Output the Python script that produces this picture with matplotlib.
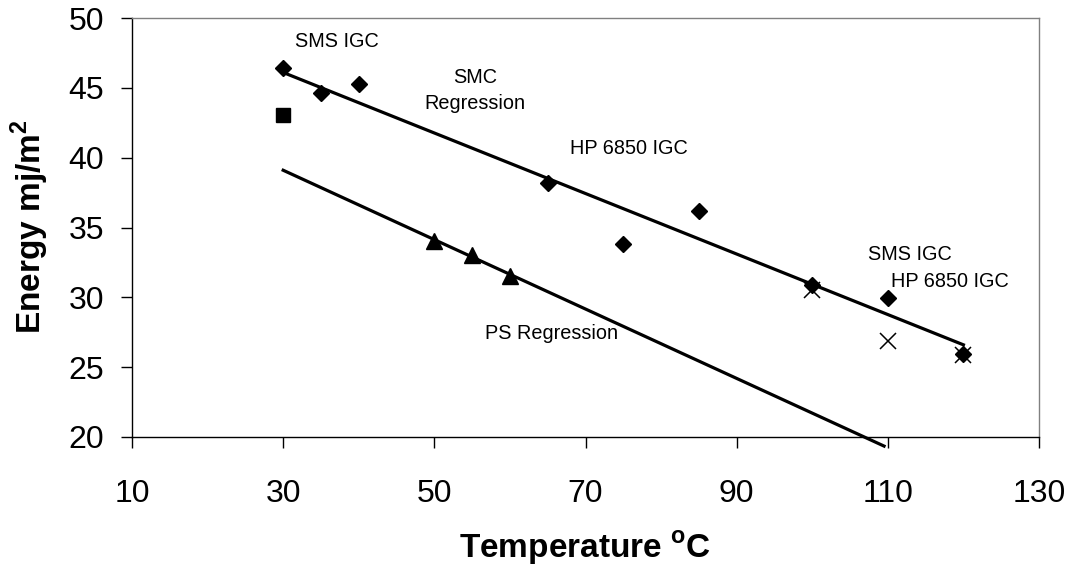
import matplotlib
matplotlib.use("Agg")
import matplotlib.pyplot as plt

plt.rcParams['font.family'] = ['Liberation Sans', 'DejaVu Sans']
plt.rcParams['mathtext.fontset'] = 'custom'
plt.rcParams['mathtext.rm'] = 'Liberation Sans'
plt.rcParams['mathtext.bf'] = 'Liberation Sans:bold'

# SMS IGC (diamonds)
sms_x = [30, 35, 40, 65, 75, 85, 100, 110, 120]
sms_y = [46.45, 44.6, 45.3, 38.2, 33.85, 36.15, 30.85, 29.95, 25.95]
# HP 6850 IGC (crosses)
hp_x = [100, 110, 120]
hp_y = [30.5, 26.85, 25.85]
# single square point
sq_x = [30]
sq_y = [43.05]
# PS points (triangles)
ps_x = [50, 55, 60]
ps_y = [34.0, 33.0, 31.5]
# regression lines (end points)
smc_reg_x = [30, 120]
smc_reg_y = [46.1, 26.6]
ps_reg_x = [30, 109.5]
ps_reg_y = [39.1, 19.35]

x_ticks = [10, 30, 50, 70, 90, 110, 130]
y_ticks = [20, 25, 30, 35, 40, 45, 50]

fig = plt.figure(figsize=(10.73, 5.77), dpi=100)
ax = fig.add_axes([132/1073, 1-437/577, (1039-132)/1073, (437-18)/577])

ax.plot(smc_reg_x, smc_reg_y, color='black', lw=2.3, zorder=2)
ax.plot(ps_reg_x, ps_reg_y, color='black', lw=2.3, zorder=2, clip_on=False)
ax.plot(sms_x, sms_y, linestyle='none', marker='D', ms=8.3, color='black', zorder=4)
ax.plot(hp_x, hp_y, linestyle='none', marker='x', ms=12, mew=1.1, color='black', zorder=3)
ax.plot(sq_x, sq_y, linestyle='none', marker='s', ms=10.5, color='black', zorder=4)
ax.plot(ps_x, ps_y, linestyle='none', marker='^', ms=11.5, color='black', zorder=4)

ax.set_xlim(10, 130)
ax.set_ylim(20, 50)
ax.set_xticks(x_ticks)
ax.set_yticks(y_ticks)
ax.tick_params(axis='both', direction='out', length=8, width=1, labelsize=23, color='black')
ax.tick_params(axis='x', pad=22)
ax.tick_params(axis='y', pad=12)

for s in ['left', 'bottom']:
    ax.spines[s].set_color('black')
    ax.spines[s].set_linewidth(1)
for s in ['top', 'right']:
    ax.spines[s].set_color('#808080')
    ax.spines[s].set_linewidth(1)

fs = 14.3
ax.text(31.6, 48.35, 'SMS IGC', fontsize=fs, ha='left', va='center')
ax.text(55.4, 45.77, 'SMC', fontsize=fs, ha='center', va='center')
ax.text(55.4, 43.87, 'Regression', fontsize=fs, ha='center', va='center')
ax.text(68.0, 40.69, 'HP 6850 IGC', fontsize=fs, ha='left', va='center')
ax.text(56.75, 27.44, 'PS Regression', fontsize=fs, ha='left', va='center')
ax.text(107.35, 33.1, 'SMS IGC', fontsize=fs, ha='left', va='center')
ax.text(110.4, 31.1, 'HP 6850 IGC', fontsize=fs, ha='left', va='center')

fig.text(30/1073, 1-227/577, r'Energy mj/m$^{\mathbf{2}}$', rotation=90,
         fontsize=24, fontweight='bold', ha='center', va='center')
fig.text(585/1073, 1-548/577, r'Temperature $^{\mathbf{o}}$C',
         fontsize=24, fontweight='bold', ha='center', va='center')

fig.savefig('out.png', dpi=100)
